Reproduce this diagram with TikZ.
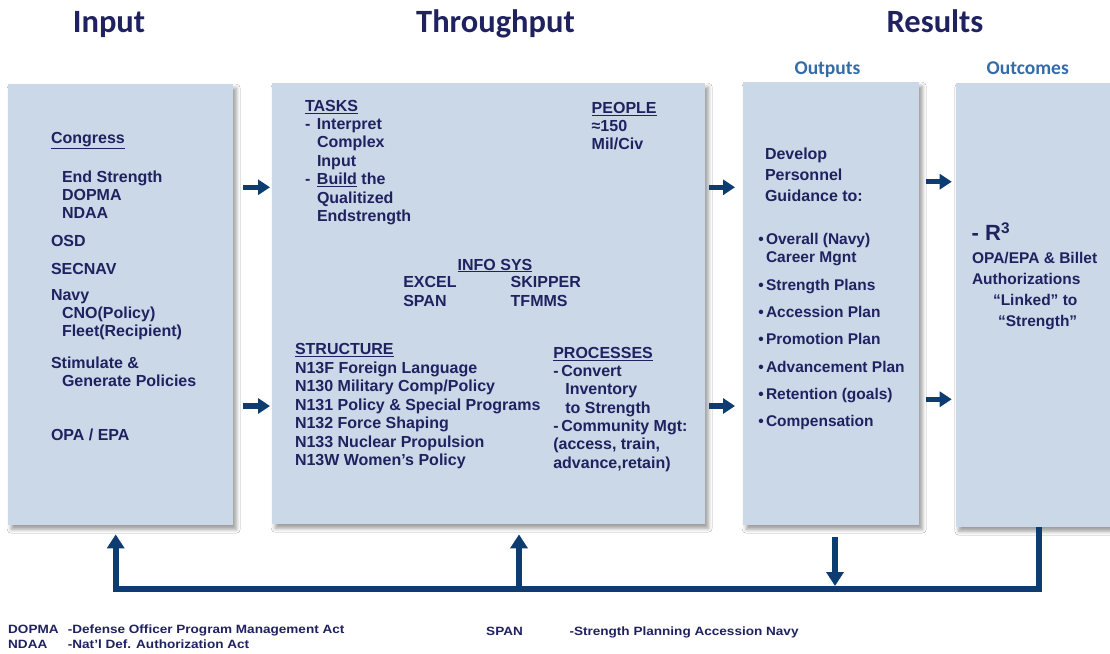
\documentclass[tikz,border=0pt]{standalone}
\usepackage{fontspec}
\setmainfont{Liberation Sans}
\newfontfamily\headfont{Carlito}
\newfontfamily\footfont[FakeStretch=1.13]{Liberation Sans}
\usetikzlibrary{arrows.meta,shadows.blur}

\definecolor{boxfill}{RGB}{202,216,232}
\definecolor{ink}{RGB}{32,34,96}
\definecolor{arrowc}{RGB}{12,60,112}
\definecolor{subhead}{RGB}{52,108,170}

\tikzset{
  panel/.style={rectangle, fill=boxfill, draw=none, anchor=north west, inner sep=0pt,
    blur shadow={shadow xshift=3pt, shadow yshift=-4pt, shadow blur radius=4pt, shadow opacity=40}},
  txt/.style={inner sep=0pt, outer sep=0pt, text=ink, align=left,
    font=\bfseries\fontsize{16}{18.4}\selectfont},
  head/.style={inner sep=0pt, text=ink, anchor=base,
    font=\headfont\bfseries\fontsize{32.5}{36}\selectfont},
  subhd/.style={inner sep=0pt, text=subhead, anchor=base,
    font=\headfont\bfseries\fontsize{19.5}{22}\selectfont},
  foot/.style={inner sep=0pt, text=ink, anchor=base west,
    font=\footfont\bfseries\fontsize{12}{14}\selectfont},
  rarr/.style={draw=arrowc, line width=5.5pt, -{Triangle[width=15pt,length=12pt]}},
  fbarr/.style={draw=arrowc, line width=6pt, line join=miter, -{Triangle[width=17pt,length=14pt]}},
}

\begin{document}
\begin{tikzpicture}[x=1pt,y=-1pt]
\path[use as bounding box, fill=white] (0,0) rectangle (1110,653);

% headers
\node[head] (hin) at (109,32) {Input};
\node[head] (hthr) at (495.5,32) {Throughput};
\node[head] (hres) at (935,32) {Results};
\node[subhd] (hout) at (827.5,74.5) {Outputs};
\node[subhd] (hoc) at (1027.7,74.5) {Outcomes};

% panels
\node[panel, minimum width=225pt, minimum height=441pt] (inbox) at (8,84) {};
\node[panel, minimum width=433pt, minimum height=441pt] (thrbox) at (272,83) {};
\node[panel, minimum width=176pt, minimum height=443pt] (outbox) at (743,82) {};
\node[panel, minimum width=162pt, minimum height=444pt] (outcbox) at (955.7,83) {};

% input text
\node[txt, anchor=base west] (cong) at (51,143) {\underline{Congress}};
\node[txt, anchor=north west] (cong1) at (62,170.5) {End Strength\\DOPMA\\NDAA};
\node[txt, anchor=base west] (osd) at (51,246) {OSD};
\node[txt, anchor=base west] (secnav) at (51,274) {SECNAV};
\node[txt, anchor=north west, font=\bfseries\fontsize{16}{18}\selectfont] (navy) at (51,289.5)
  {Navy\\\hspace*{11pt}CNO(Policy)\\\hspace*{11pt}Fleet(Recipient)};
\node[txt, anchor=north west] (stim) at (51,356.5) {Stimulate \&\\\hspace*{11pt}Generate Policies};
\node[txt, anchor=base west] (opa) at (51,440) {OPA / EPA};

% throughput text
\node[txt, anchor=base west] (tasks) at (305,111.7) {\underline{TASKS}};
\node[txt, anchor=north west] (tasklist) at (305,118.5)
  {\makebox[12pt][l]{-}Interpret\\\hspace*{12pt}Complex\\\hspace*{12pt}Input\\
   \makebox[12pt][l]{-}\underline{Build} the\\\hspace*{12pt}Qualitized\\\hspace*{12pt}Endstrength};
\node[txt, anchor=base west] (people) at (591.7,113.3) {\underline{PEOPLE}};
\node[txt, anchor=north west] (peoplelist) at (591.7,120.2) {≈150\\Mil/Civ};
\node[txt, anchor=base west] (infosys) at (457.7,270) {\underline{INFO SYS}};
\node[txt, anchor=north west] (is1) at (403.3,276.8) {EXCEL\\SPAN};
\node[txt, anchor=north west] (is2) at (510.7,276.8) {SKIPPER\\TFMMS};
\node[txt, anchor=base west] (struct) at (295,354.3) {\underline{STRUCTURE}};
\node[txt, anchor=north west] (structlist) at (295,361.8)
  {N13F Foreign Language\\N130 Military Comp/Policy\\N131 Policy \& Special Programs\\
   N132 Force Shaping\\N133 Nuclear Propulsion\\N13W Women’s Policy};
\node[txt, anchor=base west] (proc) at (553.3,358.3) {\underline{PROCESSES}};
\node[txt, anchor=north west] (proclist) at (553.3,365.2)
  {\makebox[8pt][l]{-}Convert\\\hspace*{12pt}Inventory\\\hspace*{12pt}to Strength\\
   \makebox[8pt][l]{-}Community Mgt:\\(access, train,\\advance,retain)};

% outputs text
\node[txt, anchor=north west, font=\bfseries\fontsize{16}{21.2}\selectfont] (dev) at (765,147.8)
  {Develop\\Personnel\\Guidance to:};
\node[txt, anchor=north west, font=\bfseries\fontsize{15.5}{18.7}\selectfont] (bul) at (758.3,232.9)
  {\makebox[7.7pt][l]{•}Overall (Navy)\\\hspace*{7.7pt}Career Mgnt\\[8.6pt]
   \makebox[7.7pt][l]{•}Strength Plans\\[8.6pt]
   \makebox[7.7pt][l]{•}Accession Plan\\[8.6pt]
   \makebox[7.7pt][l]{•}Promotion Plan\\[8.6pt]
   \makebox[7.7pt][l]{•}Advancement Plan\\[8.6pt]
   \makebox[7.7pt][l]{•}Retention (goals)\\[8.6pt]
   \makebox[7.7pt][l]{•}Compensation};

% outcomes text
\node[txt, anchor=base west, font=\bfseries\fontsize{22}{26}\selectfont] (r3) at (971.7,240.7) {- R\textsuperscript{3}};
\node[txt, anchor=north west, font=\bfseries\fontsize{15.5}{21}\selectfont] (oc) at (972,252.2)
  {OPA/EPA \& Billet\\Authorizations\\\hspace*{21pt}“Linked” to\\\hspace*{26pt}“Strength”};

% horizontal arrows
\coordinate (rowA) at (0,187.3);
\coordinate (rowB) at (0,406);
\coordinate (rowC) at (0,181.7);
\coordinate (rowD) at (0,399.3);
\draw[rarr, shorten <=10pt, shorten >=2pt] (inbox.east |- rowA) -- (thrbox.west |- rowA);
\draw[rarr, shorten <=10pt, shorten >=2pt] (inbox.east |- rowB) -- (thrbox.west |- rowB);
\draw[rarr, shorten <=4pt, shorten >=8pt] (thrbox.east |- rowA) -- (outbox.west |- rowA);
\draw[rarr, shorten <=4pt, shorten >=8pt] (thrbox.east |- rowB) -- (outbox.west |- rowB);
\draw[rarr, shorten <=7pt, shorten >=4pt] (outbox.east |- rowC) -- (outcbox.west |- rowC);
\draw[rarr, shorten <=7pt, shorten >=4pt] (outbox.east |- rowD) -- (outcbox.west |- rowD);

% feedback loop
\coordinate (fbL) at (115.7,589);
\coordinate (fbM) at (519,589);
\coordinate (fbD) at (835,589);
\coordinate (fbR) at (1038.7,589);
\draw[fbarr, shorten >=9pt] (outcbox.south -| fbR) -- (fbR) -- (fbL) -- (inbox.south -| fbL);
\draw[fbarr, shorten >=10pt] (fbM) -- (thrbox.south -| fbM);
\draw[fbarr, shorten <=12pt, shorten >=3pt] (outbox.south -| fbD) -- (fbD);

% footnotes
\node[foot] (fn1a) at (8,633.3) {DOPMA};
\node[foot] (fn1b) at (67.7,633.3) {-Defense Officer Program Management Act};
\node[foot] (fn2a) at (8,648.3) {NDAA};
\node[foot] (fn2b) at (67.7,648.3) {-Nat’l Def. Authorization Act};
\node[foot] (fn3a) at (486,635) {SPAN};
\node[foot] (fn3b) at (569.3,635) {-Strength Planning Accession Navy};
\end{tikzpicture}
\end{document}
